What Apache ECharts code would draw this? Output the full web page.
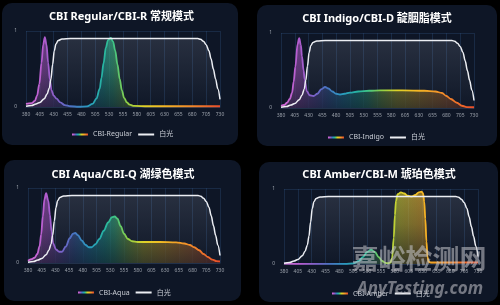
<!DOCTYPE html>
<html><head><meta charset="utf-8">
<script src="https://cdn.jsdelivr.net/npm/echarts@6/dist/echarts.min.js"></script>
<style>html,body{margin:0;padding:0;background:#000;}#c{width:500px;height:305px;}</style>
</head><body><div id="c"></div>
<script>
// ---------- DATA ----------
const xTicks = ['380','405','430','455','480','505','530','555','580','605','630','655','680','705','730'];
const titles = ['CBI Regular/CBI-R 常规模式','CBI Indigo/CBI-D 靛胭脂模式','CBI Aqua/CBI-Q 湖绿色模式','CBI Amber/CBI-M 琥珀色模式'];
const cbiNames = ['CBI-Regular','CBI-Indigo','CBI-Aqua','CBI-Amber'];
const whiteName = '白光';
const watermark = ['嘉峪检测网','AnyTesting.com'];

const whiteLight = [[380,0.01],[390,0.02],[398,0.04],[405,0.06],[413,0.11],[418,0.17],[422,0.25],[425,0.37],[428,0.56],[431,0.74],[434,0.83],[438,0.875],[445,0.895],[460,0.9],[690,0.9],[695,0.89],[700,0.865],[705,0.82],[710,0.74],[714,0.63],[718,0.5],[722,0.37],[726,0.24],[730,0.1]];

const cbiRegular = [[380,0.04],[390,0.05],[396,0.08],[400,0.15],[404,0.3],[408,0.58],[411,0.82],[414,0.92],[417,0.82],[420,0.58],[423,0.36],[426,0.22],[430,0.15],[435,0.11],[442,0.06],[450,0.025],[460,0.01],[475,0.003],[490,0.008],[500,0.04],[507,0.11],[513,0.24],[516,0.38],[520,0.58],[524,0.78],[528,0.88],[533,0.91],[537,0.86],[541,0.74],[545,0.56],[549,0.37],[553,0.22],[557,0.12],[562,0.06],[567,0.03],[575,0.015],[600,0.01],[730,0.01]];

const cbiIndigo = [[380,0.03],[386,0.04],[391,0.07],[396,0.12],[400,0.2],[403,0.35],[406,0.55],[410,0.85],[413,0.93],[416,0.84],[418,0.69],[421,0.5],[423,0.38],[427,0.22],[432,0.17],[439,0.16],[446,0.19],[453,0.25],[460,0.28],[466,0.26],[473,0.22],[480,0.19],[487,0.18],[495,0.19],[505,0.205],[520,0.22],[540,0.23],[560,0.235],[600,0.235],[640,0.23],[660,0.22],[672,0.2],[680,0.16],[688,0.12],[699,0.07],[708,0.03],[717,0.012],[730,0.01]];

const cbiAqua = [[380,0.03],[386,0.05],[392,0.07],[397,0.12],[401,0.22],[404,0.38],[407,0.62],[410,0.85],[413,0.93],[417,0.83],[420,0.64],[423,0.42],[426,0.26],[431,0.18],[437,0.15],[442,0.15],[449,0.22],[456,0.33],[462,0.39],[466,0.4],[471,0.37],[478,0.3],[485,0.24],[491,0.21],[496,0.21],[503,0.25],[510,0.32],[518,0.43],[526,0.54],[533,0.61],[538,0.62],[543,0.59],[549,0.49],[555,0.39],[562,0.32],[570,0.29],[580,0.28],[620,0.28],[650,0.275],[665,0.26],[675,0.24],[683,0.21],[692,0.17],[700,0.12],[708,0.08],[716,0.045],[724,0.025],[730,0.02]];

const cbiAmber = [[380,0.005],[400,0.003],[450,0.002],[490,0.003],[505,0.008],[515,0.04],[522,0.09],[530,0.16],[537,0.19],[544,0.16],[551,0.09],[557,0.04],[563,0.015],[568,0.01],[572,0.02],[575,0.08],[578,0.35],[580,0.65],[582,0.84],[585,0.93],[591,0.955],[597,0.94],[603,0.91],[610,0.9],[617,0.92],[623,0.955],[628,0.965],[631,0.94],[633,0.83],[635,0.6],[637,0.3],[639,0.09],[641,0.03],[645,0.02],[730,0.02]];

const cbiData = [cbiRegular, cbiIndigo, cbiAqua, cbiAmber];

// ---------- LAYOUT / STYLE ----------
const FONT = "'Noto Sans','Noto Sans CJK SC',sans-serif";
const PANEL = '#0e1626';
const panels = [
  {x:2, y:3, w:236, h:142, grid:{left:26, top:31, width:194, height:76}, title:[121.5,17], legend:[72,131]},
  {x:257, y:5, w:240, h:141, grid:{left:281, top:33, width:193, height:75}, title:[377,19], legend:[328,134]},
  {x:4, y:160, w:237, h:141, grid:{left:28, top:188, width:192, height:75}, title:[123,175], legend:[78,289]},
  {x:259, y:162, w:239, h:140, grid:{left:284, top:189, width:194, height:75}, title:[379,175], legend:[332,290]}
];
function spectrum(a){
  const c=[[0,[214,110,214]],[0.1,[180,92,207]],[0.18,[122,98,200]],[0.24,[74,114,194]],[0.32,[42,154,192]],[0.4,[38,180,162]],[0.45,[62,196,136]],[0.52,[143,208,70]],[0.6,[222,210,40]],[0.7,[244,184,36]],[0.85,[242,134,42]],[1,[232,72,42]]];
  return {type:'linear',x:0,y:0,x2:1,y2:0,colorStops:c.map(s=>({offset:s[0],color:`rgba(${s[1][0]},${s[1][1]},${s[1][2]},${a})`}))};
}
const grid=[],xAxis=[],yAxis=[],series=[],legend=[],graphic=[];
panels.forEach((p,i)=>{
  graphic.push({type:'rect',z:-1,shape:{x:p.x,y:p.y,width:p.w,height:p.h,r:10},style:{fill:PANEL}});
  graphic.push({type:'text',z:50,x:p.title[0],y:p.title[1],style:{text:titles[i],fill:'#ffffff',font:`bold 11px ${FONT}`,align:'center',verticalAlign:'middle'}});
  grid.push(Object.assign({containLabel:false},p.grid));
  xAxis.push({type:'category',gridIndex:i,data:xTicks,boundaryGap:false,
    axisLine:{lineStyle:{color:'#22314a'}},axisTick:{show:false},
    axisLabel:{color:'#9aa0aa',fontSize:5,margin:5,interval:0,fontFamily:FONT},
    splitLine:{show:true,interval:0,lineStyle:{color:'rgba(45,80,125,0.35)',width:1}}});
  xAxis.push({type:'value',gridIndex:i,min:380,max:730,show:false});
  yAxis.push({type:'value',gridIndex:i,min:0,max:1,interval:1,
    axisLine:{show:false},axisTick:{show:false},
    axisLabel:{color:'#9aa0aa',fontSize:5,margin:9,fontFamily:FONT},
    splitLine:{show:true,lineStyle:{color:'rgba(45,80,125,0.35)'}}});
  const xi=2*i+1, yi=i;
  const common={xAxisIndex:xi,yAxisIndex:yi,smooth:0.35,smoothMonotone:'x',symbol:'none',showSymbol:false,silent:true,animation:false};
  series.push(Object.assign({type:'line',name:'w-area'+i,data:whiteLight,lineStyle:{width:0},
    areaStyle:{color:{type:'linear',x:0,y:0,x2:0,y2:1,colorStops:[{offset:0,color:'rgba(200,205,222,0.2)'},{offset:1,color:'rgba(200,205,222,0.01)'}]}}},common));
  series.push(Object.assign({type:'line',name:'c-area'+i,data:cbiData[i],lineStyle:{width:0},areaStyle:{color:spectrum(0.8)}},common));
  series.push(Object.assign({type:'line',name:'c-fade'+i,data:cbiData[i],lineStyle:{width:0},
    areaStyle:{color:{type:'linear',x:0,y:0,x2:0,y2:1,colorStops:[{offset:0,color:'rgba(14,22,38,0)'},{offset:0.45,color:'rgba(14,22,38,0.25)'},{offset:1,color:'rgba(14,22,38,0.9)'}]}}},common));
  series.push(Object.assign({type:'line',name:cbiNames[i],data:cbiData[i],lineStyle:{width:1.8,color:spectrum(1)},itemStyle:{color:spectrum(1)}},common));
  series.push(Object.assign({type:'line',name:whiteName,data:whiteLight,lineStyle:{width:1.5,color:'#eceef3'},itemStyle:{color:'#eceef3'}},common));
  legend.push({left:p.legend[0],top:p.legend[1],padding:0,itemGap:6,itemWidth:16,itemHeight:2,icon:'rect',
    data:[cbiNames[i],whiteName],textStyle:{color:'#c8ccd4',fontSize:7,fontFamily:FONT},selectedMode:false});
});
graphic.push({type:'text',z:100,x:419,y:261,style:{text:watermark[0],fill:'rgba(200,200,205,0.55)',font:`bold 27px ${FONT}`,align:'center',verticalAlign:'middle'}});
graphic.push({type:'text',z:100,x:420,y:289,style:{text:watermark[1],fill:'rgba(200,200,205,0.55)',font:`italic bold 17px ${FONT}`,align:'center',verticalAlign:'middle'}});

const chart=echarts.init(document.getElementById('c'),null,{renderer:'canvas'});
chart.setOption({backgroundColor:'#000',animation:false,textStyle:{fontFamily:FONT},grid,xAxis,yAxis,series,legend,graphic});
</script></body></html>
